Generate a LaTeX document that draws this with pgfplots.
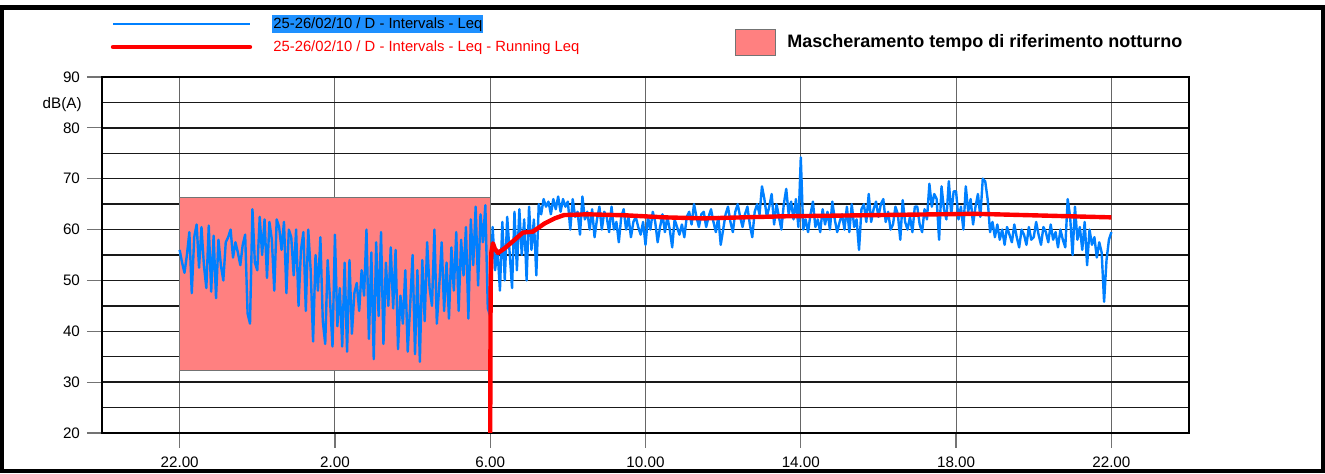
\documentclass[border=0pt]{standalone}
\usepackage{fontspec}
\setmainfont{Liberation Sans}
\usepackage{pgfplots}
\usepackage{pgfplotstable}
\pgfplotsset{compat=1.18}
\definecolor{leqblue}{RGB}{0,128,255}
\definecolor{maskpink}{RGB}{255,128,128}
\definecolor{hlblue}{RGB}{30,144,255}

% Leq intervals, one value every 1/16 h starting at 22:00 (x = hours after 22:00)
\pgfplotstableread{
y
56.0
53.5
51.5
55.0
59.5
47.5
58.5
61.0
52.5
60.5
53.0
48.5
60.8
47.8
58.8
46.5
58.0
53.0
50.0
57.5
58.5
60.0
54.5
57.5
55.5
53.0
57.0
59.0
43.5
41.5
64.0
53.5
52.0
62.5
55.0
62.0
50.5
61.5
58.0
48.0
62.0
60.5
56.0
61.5
47.5
60.0
58.5
51.0
60.0
45.0
56.0
59.5
44.0
60.0
52.0
38.0
55.0
48.0
58.5
42.0
37.5
54.0
46.0
37.0
59.0
41.0
48.5
37.0
53.5
36.0
54.0
39.5
47.5
49.5
44.0
52.0
47.0
60.0
38.5
55.5
34.5
57.5
43.0
59.5
37.5
53.5
45.0
56.5
44.5
56.0
36.5
47.0
41.5
52.0
36.0
45.0
55.0
35.5
52.0
34.0
54.0
42.0
57.5
48.5
45.0
60.0
41.5
49.0
57.5
44.0
53.5
42.5
56.5
48.0
59.5
44.0
58.0
51.0
60.5
42.5
62.0
53.0
64.5
49.0
63.0
57.5
64.8
44.5
43.0
60.5
52.0
56.0
48.0
61.5
50.0
62.5
55.5
48.5
63.5
52.0
64.0
55.0
62.0
50.0
64.5
56.0
62.0
51.0
65.0
63.0
66.0
64.5
65.5
63.0
66.0
64.0
66.5
63.5
66.0
64.5
65.5
60.0
66.0
62.5
63.5
59.0
66.5
62.0
63.5
60.0
64.0
58.5
62.0
64.5
60.0
63.5
62.5
59.5
64.5
60.0
61.5
57.5
62.5
64.0
60.0
62.5
58.5
61.5
62.5
60.5
59.0
61.5
57.0
62.5
60.0
63.5
61.5
57.5
60.5
63.0
59.5
62.5
60.0
56.5
62.0
60.5
59.0
61.0
58.5
62.5
63.5
61.0
65.0
62.5
60.5
63.0
63.5
60.5
62.5
64.0
61.5
59.5
62.5
57.0
60.0
63.0
64.5
61.5
59.5
63.5
65.0
62.5
60.5
63.0
64.5
61.0
58.5
63.5
65.0
63.0
68.5
66.0
62.5
64.5
67.0
61.0
65.0
62.5
60.0
65.0
68.0
63.0
65.5
62.0
66.0
60.5
74.2
60.0
62.0
59.5
63.0
65.5
60.5
62.0
59.5
64.0
61.0
63.5
60.0
65.5
62.0
59.5
61.5
63.0
60.0
64.5
59.5
65.0
60.5
62.0
56.0
64.0
65.0
61.5
67.0
61.5
64.0
65.5
62.5
65.0
66.0
61.5
63.5
60.0
61.0
64.5
63.0
58.0
65.8
61.5
60.0
62.5
59.5
64.5
64.5
61.0
59.5
64.0
62.0
69.0
64.5
67.0
66.0
58.0
68.5
64.0
62.0
69.5
63.0
67.5
67.5
62.0
64.5
60.0
68.5
63.5
66.0
61.0
64.5
67.0
62.5
70.0
69.5
66.0
59.5
61.5
58.5
61.0
58.0
60.0
57.0
60.5
59.0
57.5
61.0
58.5
56.5
60.0
59.0
57.0
60.5
58.0
58.5
61.5
59.0
57.0
60.5
59.5
57.5
61.0
58.0
59.5
56.5
60.0
58.0
56.5
66.0
62.5
55.0
64.5
58.0
60.5
56.0
61.5
53.0
60.0
57.0
58.5
54.5
57.5
55.5
45.8
54.0
58.0
59.5
}\leqdata

% Running Leq
\pgfplotstableread{
x y
8.00 20.0
8.01 48.0
8.03 55.5
8.07 57.3
8.12 56.2
8.20 55.4
8.37 56.3
8.63 58.0
8.84 59.4
9.10 59.6
9.40 61.2
9.66 62.2
9.90 62.85
10.5 63.0
11.5 62.8
12.5 62.4
13.5 62.2
14.5 62.4
15.5 62.6
16.5 62.7
17.5 62.8
18.5 62.9
19.5 63.0
20.5 63.1
21.0 63.0
22.0 62.8
23.0 62.6
24.0 62.4
}\runleq

\begin{document}
\begin{tikzpicture}
\begin{axis}[
  name=ax,
  set layers=standard,
  scale only axis,
  width=543.5pt, height=178pt,
  xmin=-2, xmax=26, ymin=20, ymax=90,
  xtick={0,4,...,24},
  xticklabels={22.00,2.00,6.00,10.00,14.00,18.00,22.00},
  ytick={20,30,...,90},
  minor ytick={25,35,...,85},
  grid=both,
  x grid style={draw=black!60, line width=0.5pt},
  y grid style={draw=black!90, line width=0.7pt},
  minor y grid style={draw=black!90, line width=0.7pt},
  axis line style={line width=1pt, black},
  tick pos=left, tick align=outside,
  major tick length=7.5pt, minor tick length=0pt,
  major tick style={black!55, line width=0.6pt},
  ticklabel style={font=\fontsize{7.6}{9}\selectfont},
  xticklabel style={yshift=-1pt},
  /pgf/number format/assume math mode=true,
  no markers,
]
\addplot[fill=maskpink, draw=black!55, line width=0.4pt]
  coordinates {(0,32.25) (8,32.25) (8,66.27) (0,66.27)} -- cycle;
\addplot[leqblue, line width=1.2pt, line join=round]
  table[x expr=\coordindex/16, y=y] {\leqdata};
\addplot[red, line width=2.2pt, line join=round]
  table[x=x, y=y] {\runleq};
\end{axis}

% legend
\draw[leqblue, line width=1pt] ([shift={(5.5pt,204.5pt)}]ax.south west) -- ([shift={(74pt,204.5pt)}]ax.south west);
\draw[red, line width=2.2pt, line cap=round] ([shift={(5.5pt,193pt)}]ax.south west) -- ([shift={(74pt,193pt)}]ax.south west);
\node[anchor=west, fill=hlblue, inner xsep=0.5pt, inner ysep=0.6pt, text height=6pt, text depth=1.8pt,
      font=\fontsize{7.4}{9}\selectfont] at ([shift={(85pt,204.5pt)}]ax.south west)
      {25-26/02/10 / D - Intervals - Leq};
\node[anchor=west, text=red, inner xsep=0.5pt, inner ysep=0.6pt, text height=6pt, text depth=1.8pt,
      font=\fontsize{7.4}{9}\selectfont] at ([shift={(85pt,193pt)}]ax.south west)
      {25-26/02/10 / D - Intervals - Leq - Running Leq};
\draw[black!55, fill=maskpink, line width=0.5pt] ([shift={(316.5pt,188.5pt)}]ax.south west) rectangle ([shift={(336.5pt,201.5pt)}]ax.south west);
\node[anchor=west, inner sep=0pt, font=\bfseries\fontsize{9}{11}\selectfont]
      at ([shift={(342.5pt,195pt)}]ax.south west) {Mascheramento tempo di riferimento notturno};
\node[anchor=east, inner sep=0pt, font=\fontsize{7.6}{9}\selectfont]
      at ([shift={(-10pt,164pt)}]ax.south west) {dB(A)};

% outer frame
\draw[line width=2.2pt] ([shift={(-50pt,-19pt)}]ax.south west) rectangle ([shift={(67pt,34.75pt)}]ax.north east);

\pgfresetboundingbox
\useasboundingbox ([shift={(-51pt,-20.5pt)}]ax.south west) rectangle ([shift={(68pt,38.5pt)}]ax.north east);
\end{tikzpicture}
\end{document}
